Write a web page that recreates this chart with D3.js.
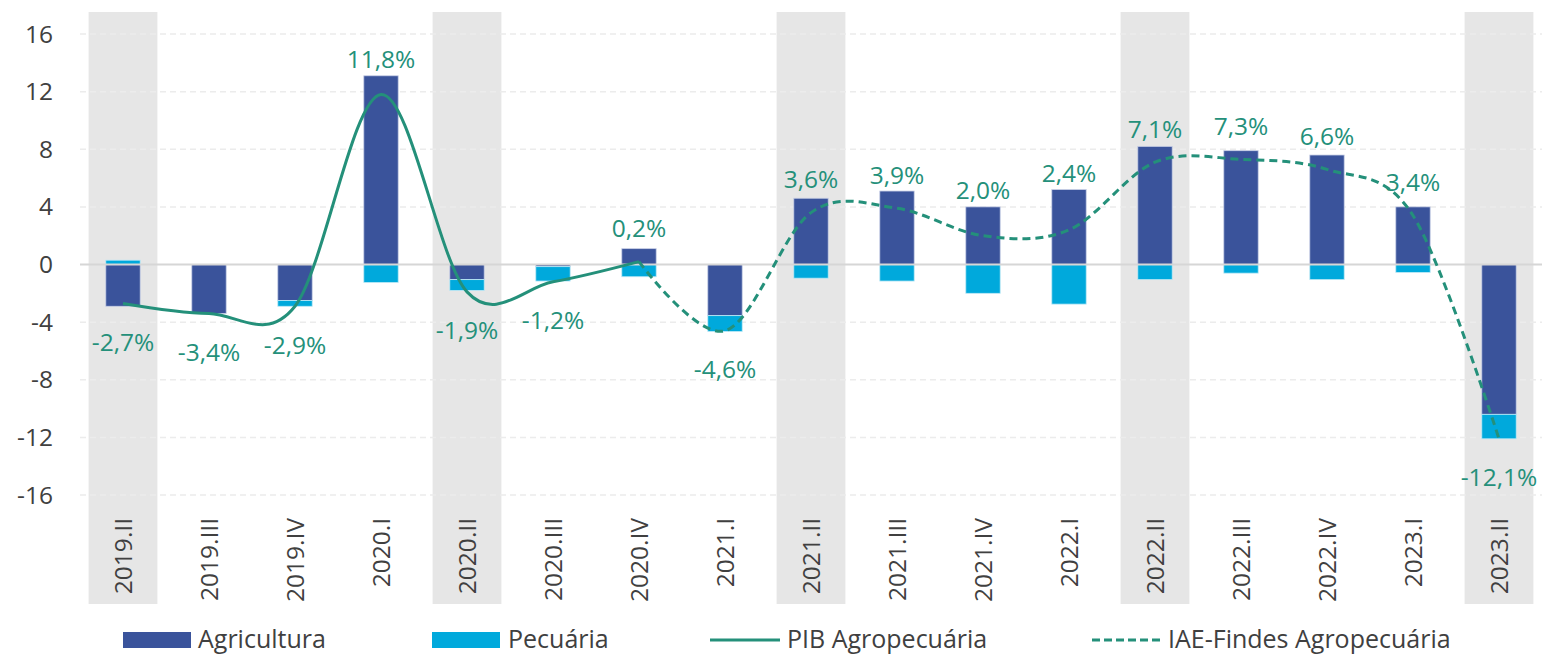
<!DOCTYPE html>
<html>
<head>
<meta charset="utf-8">
<script src="https://cdn.jsdelivr.net/npm/d3@7"></script>
<style>
  html, body { margin: 0; padding: 0; background: #fff; }
  svg { display: block; font-family: "Open Sans", "Noto Sans", sans-serif; }
</style>
</head>
<body>
<svg id="chart" width="1542" height="656"></svg>
<script>
const categories = ["2019.II","2019.III","2019.IV","2020.I","2020.II","2020.III","2020.IV","2021.I","2021.II","2021.III","2021.IV","2022.I","2022.II","2022.III","2022.IV","2023.I","2023.II"];
const agricultura = [-2.9, -3.4, -2.5, 13.1, -1.05, -0.15, 1.1, -3.55, 4.6, 5.1, 4.0, 5.2, 8.2, 7.9, 7.6, 4.0, -10.4];
const pecuaria    = [0.3, 0.0, -0.4, -1.25, -0.75, -1.0, -0.85, -1.1, -0.95, -1.15, -2.0, -2.75, -1.05, -0.6, -1.05, -0.55, -1.7];
const pibAgro     = [-2.7, -3.4, -2.9, 11.8, -1.9, -1.2, 0.2, null, null, null, null, null, null, null, null, null, null];
const iaeAgro     = [null, null, null, null, null, null, 0.2, -4.6, 3.6, 3.9, 2.0, 2.4, 7.1, 7.3, 6.6, 3.4, -12.1];
const shadedCats  = ["2019.II","2020.II","2021.II","2022.II","2023.II"];
const yTicks      = [-16, -12, -8, -4, 0, 4, 8, 12, 16];
const labelValues = [-2.7, -3.4, -2.9, 11.8, -1.9, -1.2, 0.2, -4.6, 3.6, 3.9, 2.0, 2.4, 7.1, 7.3, 6.6, 3.4, -12.1];
const legendItems = ["Agricultura", "Pecuária", "PIB Agropecuária", "IAE-Findes Agropecuária"];

const C_AGR = "#3a539b", C_PEC = "#00a9dc", C_LINE = "#24907a", C_TXT = "#404040";
const FS = 24.5;

const svg = d3.select("#chart");
const x = d3.scaleBand().domain(categories).range([80, 1542]).paddingInner(0).paddingOuter(0);
const y = d3.scaleLinear().domain([-16, 16]).range([495, 34]);
const step = x.bandwidth();
const cx = c => x(c) + step / 2;

// shaded bands
svg.append("g").selectAll("rect").data(shadedCats).join("rect")
  .attr("x", d => cx(d) - step * 0.4).attr("width", step * 0.8)
  .attr("y", 12).attr("height", 604 - 12)
  .attr("fill", "#e6e6e6");

// gridlines
svg.append("g").selectAll("line").data(yTicks.filter(t => t !== 0)).join("line")
  .attr("x1", 80).attr("x2", 1542)
  .attr("y1", d => y(d)).attr("y2", d => y(d))
  .attr("stroke", "#ececec").attr("stroke-width", 1.5).attr("stroke-dasharray", "6,4");

// y tick labels
svg.append("g").selectAll("text").data(yTicks).join("text")
  .attr("x", 53).attr("y", d => y(d)).attr("dy", "0.35em")
  .attr("text-anchor", "end").attr("font-size", FS).attr("fill", C_TXT)
  .text(d => String(d));

// bars
const barW = step * 0.4;
const bars = svg.append("g");
const barTop = [], barBot = [];
categories.forEach((c, i) => {
  const a = agricultura[i], p = pecuaria[i];
  bars.append("rect")
    .attr("x", cx(c) - barW / 2).attr("width", barW)
    .attr("y", y(Math.max(0, a))).attr("height", Math.abs(y(a) - y(0)))
    .attr("fill", C_AGR).attr("stroke", "#c9d0e6").attr("stroke-width", 0.8);
  let base = 0;
  if ((p < 0 && a < 0) || (p > 0 && a > 0)) base = a;
  const hi = Math.max(0, a, base + p), lo = Math.min(0, a, base + p);
  barTop.push(hi); barBot.push(lo);
  if (p !== 0) {
    const top = y(Math.max(base, base + p)), bot = y(Math.min(base, base + p));
    bars.append("rect")
      .attr("x", cx(c) - barW / 2).attr("width", barW)
      .attr("y", top).attr("height", bot - top)
      .attr("fill", C_PEC).attr("stroke", "#bfe9f6").attr("stroke-width", 0.8);
  }
});

// zero line
svg.append("line").attr("x1", 80).attr("x2", 1542).attr("y1", y(0)).attr("y2", y(0))
  .attr("stroke", "#d6d6d6").attr("stroke-width", 2);

// lines
const lineGen = d3.line()
  .x(d => cx(d.c)).y(d => y(d.v))
  .curve(d3.curveCardinal.tension(0));
svg.append("path")
  .attr("d", lineGen(categories.map((c, i) => ({c, v: pibAgro[i]})).filter(d => d.v !== null)))
  .attr("fill", "none").attr("stroke", C_LINE).attr("stroke-width", 3);
svg.append("path")
  .attr("d", lineGen(categories.map((c, i) => ({c, v: iaeAgro[i]})).filter(d => d.v !== null)))
  .attr("fill", "none").attr("stroke", C_LINE).attr("stroke-width", 3).attr("stroke-dasharray", "8,5");

// data labels (placed clear of the line point and of the bar)
svg.append("g").selectAll("text").data(categories).join("text")
  .attr("x", c => cx(c))
  .attr("y", (c, i) => {
    const v = labelValues[i];
    return v >= 0 ? Math.min(y(v) - 33, y(barTop[i]) - 16) : Math.max(y(v) + 39, y(barBot[i]) + 30);
  })
  .attr("dy", "0.35em")
  .attr("text-anchor", "middle").attr("font-size", FS).attr("fill", C_LINE)
  .text((c, i) => labelValues[i].toFixed(1).replace(".", ",") + "%");

// category labels
svg.append("g").selectAll("text").data(categories).join("text")
  .attr("transform", c => `translate(${cx(c)},518) rotate(-90)`)
  .attr("text-anchor", "end").attr("dy", "0.35em")
  .attr("font-size", FS).attr("fill", C_TXT)
  .text(c => c);

// legend
const lg = svg.append("g");
const ly = 639, LFS = 25;
lg.append("rect").attr("x", 123).attr("y", ly - 7).attr("width", 68).attr("height", 16).attr("fill", C_AGR);
lg.append("text").attr("x", 198).attr("y", ly).attr("dy", "0.35em").attr("font-size", LFS).attr("fill", C_TXT).text(legendItems[0]);
lg.append("rect").attr("x", 432).attr("y", ly - 7).attr("width", 68).attr("height", 16).attr("fill", C_PEC);
lg.append("text").attr("x", 508).attr("y", ly).attr("dy", "0.35em").attr("font-size", LFS).attr("fill", C_TXT).text(legendItems[1]);
lg.append("line").attr("x1", 710).attr("x2", 780).attr("y1", ly + 1).attr("y2", ly + 1).attr("stroke", C_LINE).attr("stroke-width", 3);
lg.append("text").attr("x", 787).attr("y", ly).attr("dy", "0.35em").attr("font-size", LFS).attr("fill", C_TXT).text(legendItems[2]);
lg.append("line").attr("x1", 1092).attr("x2", 1162).attr("y1", ly + 1).attr("y2", ly + 1).attr("stroke", C_LINE).attr("stroke-width", 3).attr("stroke-dasharray", "8,4");
lg.append("text").attr("x", 1168).attr("y", ly).attr("dy", "0.35em").attr("font-size", LFS).attr("fill", C_TXT).text(legendItems[3]);
</script>
</body>
</html>
